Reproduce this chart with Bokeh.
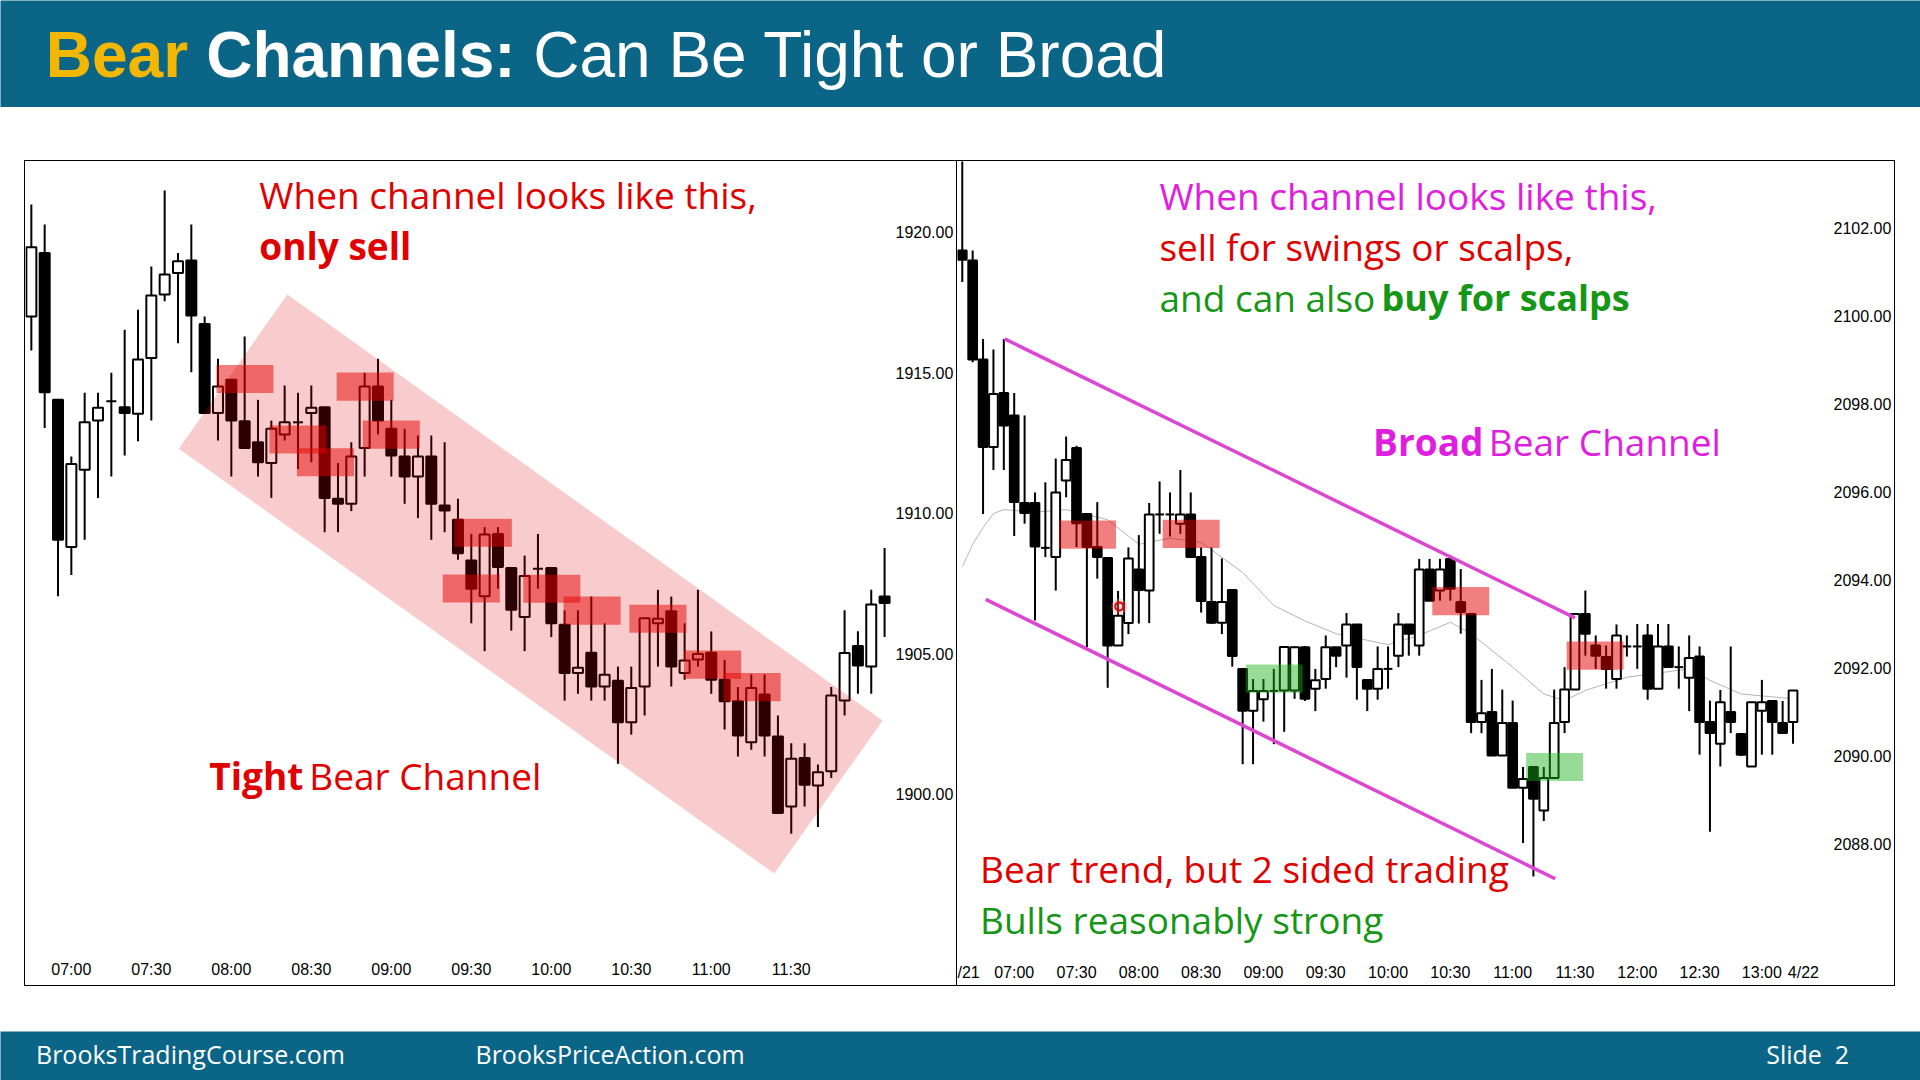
import numpy as np
from bokeh.plotting import figure
from bokeh.models import Range1d, FixedTicker, PrintfTickFormatter, LinearAxis, Spacer
from bokeh.layouts import column, row
from bokeh.core.properties import value
from bokeh.embed import file_html
from bokeh.resources import INLINE

# ---------------- data: left chart (5-min bars, first bar 06:45) ----------------
L_START_MIN = 405  # 06:45
L_OPEN = [1916.99, 1919.25, 1914.03, 1908.79, 1911.54, 1913.29, 1913.98, 1913.77, 1913.53, 1915.52,
          1917.78, 1918.54, 1918.99, 1916.73, 1913.56, 1914.74, 1913.27, 1912.52, 1911.78, 1912.80,
          1913.23, 1913.56, 1913.77, 1910.51, 1910.33, 1912.32, 1914.50, 1913.00, 1912.01, 1911.30,
          1912.01, 1910.27, 1909.76, 1908.31, 1907.04, 1909.26, 1908.05, 1906.30, 1908.02, 1908.05,
          1906.03, 1904.31, 1905.03, 1903.83, 1904.04, 1902.56, 1903.83, 1906.08, 1906.51, 1904.31,
          1904.79, 1905.03, 1904.07, 1903.31, 1901.85, 1903.55, 1902.05, 1899.56, 1901.29, 1900.31,
          1900.82, 1903.33, 1905.27, 1904.54, 1907.03]
L_HIGH = [1920.98, 1920.27, 1914.05, 1912.01, 1914.28, 1914.28, 1914.99, 1916.52, 1917.23, 1918.77,
          1921.48, 1919.25, 1920.27, 1916.99, 1915.49, 1914.74, 1916.28, 1914.03, 1913.29, 1914.54,
          1914.28, 1914.54, 1913.77, 1911.78, 1912.52, 1914.99, 1915.49, 1914.03, 1913.00, 1912.76,
          1912.76, 1912.52, 1910.51, 1909.26, 1909.50, 1909.50, 1908.05, 1908.49, 1909.26, 1908.05,
          1906.54, 1906.54, 1907.03, 1906.08, 1904.54, 1904.54, 1906.26, 1907.27, 1907.03, 1906.08,
          1907.27, 1905.79, 1904.78, 1903.81, 1904.26, 1904.26, 1902.80, 1901.81, 1901.81, 1901.06,
          1903.81, 1906.54, 1905.80, 1907.27, 1908.76]
L_LOW = [1915.78, 1913.03, 1907.04, 1907.80, 1909.05, 1910.54, 1911.30, 1912.05, 1912.56, 1913.29,
         1917.54, 1916.04, 1915.01, 1913.56, 1912.58, 1911.30, 1912.32, 1911.30, 1910.54, 1912.58,
         1911.57, 1911.81, 1909.32, 1909.32, 1910.07, 1911.30, 1912.80, 1911.30, 1910.33, 1909.82,
         1909.05, 1909.32, 1908.34, 1906.08, 1905.09, 1907.31, 1905.82, 1905.09, 1907.31, 1905.59,
         1903.33, 1903.57, 1903.33, 1903.33, 1901.08, 1902.12, 1902.80, 1904.54, 1903.83, 1904.07,
         1904.54, 1903.57, 1902.30, 1901.34, 1901.58, 1901.34, 1899.33, 1898.59, 1899.56, 1898.83,
         1900.58, 1902.80, 1903.57, 1903.57, 1905.59]
L_CLOSE = [1919.46, 1914.30, 1909.05, 1911.75, 1913.23, 1913.75, 1913.98, 1913.56, 1915.46, 1917.74,
           1918.49, 1918.96, 1917.03, 1913.56, 1914.50, 1913.29, 1912.32, 1911.81, 1913.00, 1913.23,
           1913.23, 1913.75, 1910.54, 1910.33, 1912.01, 1914.50, 1913.29, 1912.05, 1911.30, 1912.01,
           1910.33, 1910.09, 1908.57, 1907.31, 1909.24, 1908.08, 1906.56, 1907.76, 1908.02, 1906.08,
           1904.31, 1904.50, 1903.83, 1904.25, 1902.56, 1903.78, 1906.26, 1906.24, 1904.54, 1904.76,
           1904.99, 1904.07, 1903.31, 1902.09, 1903.78, 1902.09, 1899.33, 1901.26, 1900.34, 1900.78,
           1903.51, 1905.02, 1904.58, 1906.75, 1906.80]
L_TICKS = [420, 450, 480, 510, 540, 570, 600, 630, 660, 690]
L_TICK_LABELS = ["07:00", "07:30", "08:00", "08:30", "09:00", "09:30", "10:00", "10:30", "11:00", "11:30"]
L_PRICE_TICKS = [1900, 1905, 1910, 1915, 1920]
# channel (time in minutes, price) and highlighted sell zones
L_CHANNEL_T = [501.0, 724.3, 683.6, 460.3]
L_CHANNEL_P = [1917.78, 1902.62, 1897.18, 1912.29]
L_ZONE_T = [485.1, 530.2, 505.0, 515.3, 540.0, 574.5, 570.0, 600.2, 615.3, 640.0, 660.5, 675.3]
L_ZONE_P = [1914.77, 1914.50, 1912.62, 1911.81, 1912.79, 1909.30, 1907.32, 1907.31, 1906.53, 1906.24, 1904.61, 1903.81]

# ---------------- data: right chart (5-min bars, first bar 06:35) ----------------
R_START_MIN = 395  # 06:35
R_OPEN = [2101.49, 2101.26, 2099.01, 2097.02, 2098.25, 2097.74, 2095.75, 2095.75, 2094.73, 2094.52,
          2096.26, 2097.00, 2095.50, 2094.75, 2094.50, 2092.51, 2093.02, 2094.24, 2093.76, 2095.49,
          2095.49, 2095.28, 2095.49, 2094.52, 2093.50, 2093.03, 2093.77, 2091.98, 2091.03, 2091.29,
          2091.48, 2091.49, 2091.49, 2092.47, 2091.53, 2091.75, 2092.47, 2092.51, 2092.99, 2091.73,
          2091.53, 2091.98, 2092.28, 2092.99, 2092.51, 2094.24, 2093.76, 2094.48, 2093.50, 2093.23,
          2090.77, 2091.00, 2090.01, 2090.75, 2089.28, 2089.75, 2088.76, 2089.50, 2090.77, 2091.51,
          2093.23, 2092.51, 2092.25, 2091.75, 2092.49, 2092.49, 2092.74, 2091.53, 2092.49, 2092.02,
          2091.78, 2092.26, 2090.77, 2090.28, 2091.00, 2090.50, 2089.76, 2091.03, 2091.25, 2090.75,
          2090.77]
R_HIGH = [2104.50, 2101.49, 2099.48, 2099.24, 2099.48, 2098.25, 2097.74, 2095.99, 2096.22, 2096.76,
          2097.26, 2097.05, 2095.50, 2095.77, 2094.50, 2093.75, 2094.74, 2095.02, 2095.75, 2096.24,
          2095.99, 2096.50, 2095.99, 2094.74, 2094.74, 2094.49, 2093.77, 2091.98, 2091.75, 2091.75,
          2091.98, 2092.48, 2092.50, 2092.50, 2091.98, 2092.74, 2092.47, 2093.25, 2092.99, 2091.73,
          2092.49, 2092.49, 2093.25, 2092.99, 2094.48, 2094.48, 2094.48, 2094.56, 2094.25, 2093.23,
          2091.73, 2091.98, 2091.51, 2091.26, 2089.75, 2089.75, 2089.75, 2091.51, 2092.02, 2093.23,
          2093.76, 2092.74, 2092.51, 2092.99, 2092.74, 2093.00, 2093.00, 2093.00, 2093.00, 2092.49,
          2092.74, 2092.49, 2091.26, 2091.50, 2092.49, 2090.52, 2091.22, 2091.73, 2091.25, 2091.25,
          2091.49]
R_LOW = [2100.77, 2098.95, 2095.50, 2096.50, 2096.50, 2095.00, 2095.28, 2093.08, 2094.52, 2093.76,
         2095.88, 2094.75, 2092.47, 2094.03, 2091.55, 2092.50, 2092.77, 2093.01, 2093.02, 2095.05,
         2094.99, 2095.05, 2094.52, 2093.26, 2093.00, 2092.77, 2092.03, 2089.81, 2089.81, 2090.78,
         2090.27, 2090.55, 2091.30, 2091.25, 2091.02, 2091.53, 2092.02, 2091.78, 2091.28, 2091.02,
         2091.28, 2091.53, 2092.02, 2092.28, 2092.28, 2093.53, 2093.53, 2093.53, 2092.78, 2090.52,
         2090.52, 2090.01, 2090.01, 2089.28, 2088.02, 2087.26, 2088.52, 2089.50, 2090.52, 2091.51,
         2092.28, 2091.98, 2091.53, 2091.53, 2092.26, 2091.98, 2091.28, 2091.53, 2092.02, 2091.53,
         2091.02, 2090.03, 2088.28, 2089.76, 2090.52, 2090.00, 2089.76, 2090.03, 2090.03, 2090.52,
         2090.28]
R_CLOSE = [2101.28, 2099.01, 2097.02, 2098.23, 2097.51, 2095.77, 2095.52, 2094.76, 2094.73, 2095.99,
           2096.73, 2095.29, 2094.75, 2094.52, 2092.51, 2093.19, 2094.49, 2093.77, 2095.49, 2095.49,
           2095.49, 2095.49, 2094.52, 2093.52, 2093.03, 2093.50, 2092.27, 2091.03, 2091.48, 2091.48,
           2091.48, 2092.48, 2092.47, 2091.30, 2091.72, 2092.47, 2092.28, 2092.99, 2092.02, 2091.53,
           2091.98, 2091.98, 2092.99, 2092.78, 2094.24, 2093.53, 2094.24, 2093.80, 2093.27, 2090.77,
           2090.97, 2090.01, 2090.75, 2089.28, 2089.48, 2089.03, 2089.50, 2090.75, 2091.51, 2093.23,
           2092.78, 2092.28, 2091.98, 2092.74, 2092.49, 2092.49, 2091.53, 2092.49, 2092.02, 2092.02,
           2092.23, 2090.77, 2090.52, 2091.22, 2090.77, 2090.03, 2091.22, 2091.22, 2090.77, 2090.52,
           2091.49]
R_TICKS = [398, 420, 450, 480, 510, 540, 570, 600, 630, 660, 690, 720, 750, 780, 800]
R_TICK_LABELS = ["/21", "07:00", "07:30", "08:00", "08:30", "09:00", "09:30", "10:00", "10:30",
                 "11:00", "11:30", "12:00", "12:30", "13:00", "4/22"]
R_PRICE_TICKS = [2088, 2090, 2092, 2094, 2096, 2098, 2100, 2102]
# moving average
R_MA_T = [395, 400, 405, 410, 415, 430, 445, 465, 480, 495, 510, 530, 545, 560, 575, 600, 615, 630,
          640, 660, 675, 685, 695, 715, 745, 755, 770, 795]
R_MA_P = [2094.30, 2094.81, 2095.19, 2095.51, 2095.60, 2095.54, 2095.60, 2095.37, 2094.81, 2094.95,
          2094.86, 2094.17, 2093.42, 2093.07, 2092.78, 2092.53, 2092.74, 2093.04, 2092.78, 2092.02,
          2091.41, 2091.26, 2091.49, 2091.79, 2091.98, 2091.72, 2091.41, 2091.30]
# channel lines
R_TOP_T = [415.4, 690.0]
R_TOP_P = [2099.48, 2093.14]
R_BOT_T = [406.3, 680.5]
R_BOT_P = [2093.56, 2087.21]
# highlighted zones
R_SELL_T = [455.3, 505.2, 635.0, 699.7]
R_SELL_P = [2095.03, 2095.05, 2093.52, 2092.28]
R_BUY_T = [545.2, 680.2]
R_BUY_P = [2091.76, 2089.75]
R_CURSOR_T = [470.6]
R_CURSOR_P = [2093.40]

# ---------------- style ----------------
TEAL = "#0B6587"
YELLOW = "#F4B700"
RED = "#E00000"
MAGENTA = "#E01EE0"
GREEN = "#169616"
CHAN = "#DC46D2"
AXFONT = "Liberation Sans"
TXTFONT = "Open Sans"
TITLEFONT = "Liberation Sans"


# page pixel -> data helpers
def ident(v):
    return v


def lx(X):
    return L_START_MIN + 5 * ((X - 71.0) / 13.378 + 3)


def ly(Y):
    return 1920 - (Y - 231.5) / 28.11


def rx(X):
    return R_START_MIN + 5 * ((X - 961.8) / 10.42)


def ry(Y):
    return 2088 + (843.5 - Y) / 44.0


def base_fig(w, h, xr, yr, mbr=0, mbb=0, bg="white"):
    p = figure(width=w, height=h, x_range=Range1d(*xr), y_range=Range1d(*yr),
               output_backend="svg", toolbar_location=None,
               x_axis_location=None, y_axis_location=None,
               min_border_left=0, min_border_top=0, min_border_right=mbr, min_border_bottom=mbb,
               background_fill_color=bg, border_fill_color=bg, outline_line_color=None)
    p.grid.visible = False
    return p


def add_axes(p, ticks, labels, yticks):
    xa = LinearAxis(ticker=FixedTicker(ticks=ticks),
                    major_label_overrides={t: s for t, s in zip(ticks, labels)},
                    axis_line_color=None, major_tick_line_color=None, minor_tick_line_color=None,
                    major_tick_out=0, major_tick_in=0,
                    major_label_text_font=AXFONT, major_label_text_font_size="16px",
                    major_label_text_color="black", major_label_standoff=4)
    p.add_layout(xa, "below")
    ya = LinearAxis(ticker=FixedTicker(ticks=yticks), formatter=PrintfTickFormatter(format="%.2f"),
                    axis_line_color=None, major_tick_line_color=None, minor_tick_line_color=None,
                    major_tick_out=0, major_tick_in=0,
                    major_label_text_font=AXFONT, major_label_text_font_size="16px",
                    major_label_text_color="black", major_label_standoff=4)
    p.add_layout(ya, "right")


def draw_candles(p, start, o, h, l, c, body_w):
    o, h, l, c = map(np.asarray, (o, h, l, c))
    x = start + 5 * np.arange(len(o))
    p.segment(x, l, x, h, line_color="black", line_width=2)
    up = c > o
    dn = c < o
    dj = c == o
    p.vbar(x=x[up], width=body_w, top=c[up], bottom=o[up],
           fill_color="white", line_color="black", line_width=2)
    p.vbar(x=x[dn], width=body_w, top=o[dn], bottom=c[dn],
           fill_color="black", line_color="black", line_width=2)
    p.segment(x[dj] - body_w / 2, c[dj], x[dj] + body_w / 2, c[dj], line_color="black", line_width=2)


def txt(p, X, Y, s, color, bold=False, size=37, font=TXTFONT, fx=ident, fy=ident, k=0.37):
    # X, Y: wanted left edge and baseline in page pixels; k compensates the renderer's baseline offset
    p.text(x=[fx(X)], y=[fy(Y - k * size)], text=[s], text_color=color, text_font=value(font),
           text_font_size=f"{size}px", text_font_style="bold" if bold else "normal",
           text_align="left", text_baseline="alphabetic")


# ---------------- header ----------------
header = base_fig(1920, 107, (0, 1920), (107, 0), bg=TEAL)
txt(header, 45.3, 78.4, "Bear", YELLOW, True, 64, TITLEFONT, k=0.38)
txt(header, 205.7, 78.4, "Channels:", "white", True, 64, TITLEFONT, k=0.38)
txt(header, 532.7, 78.4, "Can Be Tight or Broad", "white", False, 64, TITLEFONT, k=0.38)

# ---------------- left chart ----------------
left = base_fig(931, 824, (lx(25), lx(894)), (ly(956), ly(161)), mbr=62, mbb=29)
add_axes(left, L_TICKS, L_TICK_LABELS, L_PRICE_TICKS)
draw_candles(left, L_START_MIN, L_OPEN, L_HIGH, L_LOW, L_CLOSE, 3.75)
left.patch(L_CHANNEL_T, L_CHANNEL_P, fill_color="#DC0000", fill_alpha=0.2, line_color=None)
left.rect(x=L_ZONE_T, y=L_ZONE_P, width=21.4, height=1.0,
          fill_color="#E60000", fill_alpha=0.5, line_color=None)
txt(left, 259.6, 208.0, "When channel looks like this,", RED, fx=lx, fy=ly)
txt(left, 259.6, 259.0, "only sell", RED, True, fx=lx, fy=ly)
txt(left, 209.4, 788.5, "Tight", RED, True, fx=lx, fy=ly)
txt(left, 309.8, 788.5, "Bear Channel", RED, fx=lx, fy=ly)

# ---------------- right chart ----------------
right = base_fig(937, 824, (rx(957), rx(1832)), (ry(959), ry(161)), mbr=62, mbb=26)
add_axes(right, R_TICKS, R_TICK_LABELS, R_PRICE_TICKS)
right.line(R_MA_T, R_MA_P, line_color="#B4B4B4", line_width=1)
draw_candles(right, R_START_MIN, R_OPEN, R_HIGH, R_LOW, R_CLOSE, 4.2)
right.rect(x=R_SELL_T, y=R_SELL_P, width=27.4, height=0.64,
           fill_color="#E60000", fill_alpha=0.5, line_color=None)
right.rect(x=R_BUY_T, y=R_BUY_P, width=27.4, height=0.64,
           fill_color="#16B116", fill_alpha=0.45, line_color=None)
right.line(R_TOP_T, R_TOP_P, line_color=CHAN, line_width=3.5)
right.line(R_BOT_T, R_BOT_P, line_color=CHAN, line_width=3.5)
right.scatter(R_CURSOR_T, R_CURSOR_P, marker="circle", size=16, fill_color="#FF9090",
              fill_alpha=0.35, line_color=None)
right.scatter(R_CURSOR_T, R_CURSOR_P, marker="circle", size=8, fill_color=None,
              line_color=RED, line_width=2)
txt(right, 1159.6, 208.5, "When channel looks like this,", MAGENTA, fx=rx, fy=ry)
txt(right, 1159.6, 260.0, "sell for swings or scalps,", RED, fx=rx, fy=ry)
txt(right, 1159.6, 310.7, "and can also", GREEN, fx=rx, fy=ry)
txt(right, 1382.5, 310.7, "buy for scalps", GREEN, True, 36, fx=rx, fy=ry)
txt(right, 1374.0, 455.0, "Broad", MAGENTA, True, fx=rx, fy=ry)
txt(right, 1490.2, 455.0, "Bear Channel", MAGENTA, fx=rx, fy=ry)
txt(right, 979.6, 882.0, "Bear trend, but 2 sided trading", RED, fx=rx, fy=ry)
txt(right, 979.6, 933.0, "Bulls reasonably strong", GREEN, fx=rx, fy=ry)

# ---------------- footer ----------------
footer = base_fig(1920, 49, (0, 1920), (1080, 1031), bg=TEAL)
txt(footer, 35.5, 1062, "BrooksTradingCourse.com", "white", False, 25, k=0.36)
txt(footer, 475.0, 1062, "BrooksPriceAction.com", "white", False, 25, k=0.36)
txt(footer, 1765.7, 1062, "Slide\u00a0\u00a02", "white", False, 25, k=0.36)


def vline(h):
    return Spacer(width=1, height=h, styles={"background-color": "black"})


def hline(w):
    return Spacer(width=w, height=1, styles={"background-color": "black"})


charts = row(Spacer(width=24, height=826), vline(826),
             column(hline(931), left, hline(931)), vline(826),
             column(hline(937), right, hline(937)), vline(826))
page = column(header, Spacer(width=1920, height=53), charts, Spacer(width=1920, height=45), footer)

open("out.html", "w").write(file_html(page, INLINE))
